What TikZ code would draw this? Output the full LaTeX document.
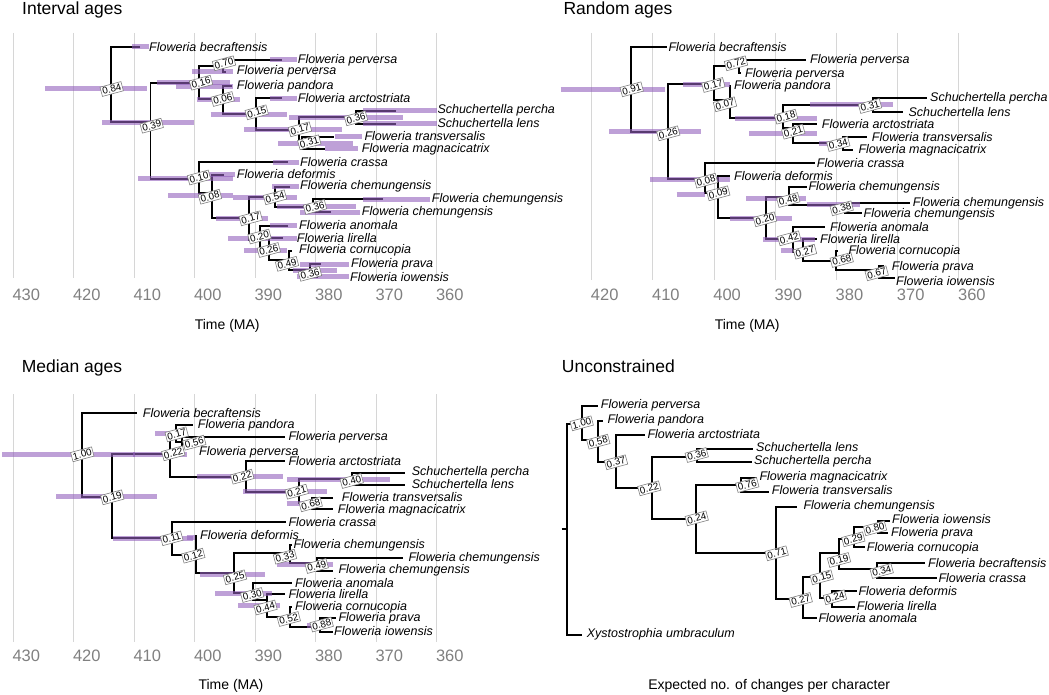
\documentclass[tikz,border=0pt]{standalone}
\usepackage{fontspec}
\setmainfont{Liberation Sans}
\definecolor{hpdpurple}{RGB}{147,97,188}
\definecolor{gridgray}{RGB}{214,214,214}
\definecolor{tickgray}{RGB}{128,128,128}
\tikzset{
  branch/.style={line width=1.7pt},
  hpd/.style={line width=5pt, draw=hpdpurple, draw opacity=0.6},
  gridline/.style={draw=gridgray, line width=0.9pt},
  tiplab/.style={anchor=west, inner sep=0pt, font=\fontsize{12.5}{12.5}\selectfont\itshape},
  pplab/.style={draw=tickgray, fill=white, inner sep=1.3pt, rotate=15, line width=0.6pt, font=\fontsize{9.8}{9.8}\selectfont},
  ticklab/.style={text=tickgray, inner sep=0pt, font=\fontsize{16.5}{16.5}\selectfont},
  paneltitle/.style={anchor=west, inner sep=0pt, font=\fontsize{17.5}{17.5}\selectfont},
  axtitle/.style={inner sep=0pt, font=\fontsize{14}{14}\selectfont},
}
\begin{document}
\begin{tikzpicture}[x=1pt,y=-1pt]
\useasboundingbox (0,0) rectangle (1049,695);

% ---------------- Interval ages
\node[paneltitle] (i-title) at (22,10) {Interval ages};
\foreach \t in {430,420,...,360} {
  \draw[gridline] ({13.3+(430-\t)*6.05},33) -- ({13.3+(430-\t)*6.05},278);
  \node[ticklab] (i-tick\t) at ({26.3+(430-\t)*6.05},295) {\t};
}
\node[axtitle] (i-axis) at (227.2,325.8) {Time (MA)};

\coordinate (i-root) at (111,88);
\coordinate (i-a) at (150.5,122.3);
\coordinate (i-b) at (199.3,83.3);
\coordinate (i-c) at (222.7,65.7);
\coordinate (i-d) at (223.3,99.3);
\coordinate (i-e) at (255.7,114.3);
\coordinate (i-f) at (299.3,130);
\coordinate (i-g) at (356,117.3);
\coordinate (i-h) at (302,142.3);
\coordinate (i-i) at (199.3,179.3);
\coordinate (i-j) at (212.3,193.3);
\coordinate (i-k) at (249.3,218.3);
\coordinate (i-l) at (275,197.3);
\coordinate (i-n) at (313.3,206.7);
\coordinate (i-m) at (260,240);
\coordinate (i-o) at (269.3,249.3);
\coordinate (i-p) at (289,260);
\coordinate (i-q) at (310,270);
\coordinate (i-becr) at (140,46.7);
\coordinate (i-perv1) at (281.7,60);
\coordinate (i-perv2) at (226,71.7);
\coordinate (i-pand) at (232,86);
\coordinate (i-arct) at (281.7,98.3);
\coordinate (i-perc) at (396,110.7);
\coordinate (i-lens) at (396,124);
\coordinate (i-tran) at (334.3,136.7);
\coordinate (i-magn) at (325,149);
\coordinate (i-cras) at (288.3,162.3);
\coordinate (i-defo) at (224,175);
\coordinate (i-chm1) at (290,186.7);
\coordinate (i-chm2) at (383.3,199.3);
\coordinate (i-chm3) at (331,212.3);
\coordinate (i-anom) at (288.3,225.7);
\coordinate (i-lire) at (283.3,238.3);
\coordinate (i-corn) at (292,250.7);
\coordinate (i-prav) at (321,264);
\coordinate (i-iowa) at (318,276.7);

\draw[branch] (i-root) |- (i-becr) (i-root) |- (i-a)
  (i-a) |- (i-b) (i-a) |- (i-i)
  (i-b) |- (i-c) (i-b) |- (i-d)
  (i-c) |- (i-perv1) (i-c) |- (i-perv2)
  (i-d) |- (i-pand) (i-d) |- (i-e)
  (i-e) |- (i-arct) (i-e) |- (i-f)
  (i-f) |- (i-g) (i-f) |- (i-h)
  (i-g) |- (i-perc) (i-g) |- (i-lens)
  (i-h) |- (i-tran) (i-h) |- (i-magn)
  (i-i) |- (i-cras) (i-i) |- (i-j)
  (i-j) |- (i-defo) (i-j) |- (i-k)
  (i-k) |- (i-l) (i-k) |- (i-m)
  (i-l) |- (i-chm1) (i-l) |- (i-n)
  (i-n) |- (i-chm2) (i-n) |- (i-chm3)
  (i-m) |- (i-anom) (i-m) |- (i-o)
  (i-o) |- (i-lire) (i-o) |- (i-p)
  (i-p) |- (i-corn) (i-p) |- (i-q)
  (i-q) |- (i-prav) (i-q) |- (i-iowa);

\draw[hpd] (45,89) -- (146.7,89);
\draw[hpd] (102,122.3) -- (194,122.3);
\draw[hpd] (131.7,46.7) -- (149,46.7);
\draw[hpd] (156.7,82.7) -- (230,82.7);
\draw[hpd] (175.7,86.5) -- (233,86.5);
\draw[hpd] (191.7,71.7) -- (233.3,71.7);
\draw[hpd] (270,60) -- (296.7,60);
\draw[hpd] (196.7,99.3) -- (240,99.3);
\draw[hpd] (270,98.3) -- (296.7,98.3);
\draw[hpd] (210.7,114.3) -- (287.3,114.3);
\draw[hpd] (244,130) -- (341.7,130);
\draw[hpd] (289.3,117.3) -- (403.3,117.3);
\draw[hpd] (363.3,110.7) -- (436.7,110.7);
\draw[hpd] (363.3,124) -- (436.7,124);
\draw[hpd] (278,143.3) -- (353,143.3);
\draw[hpd] (335,136.7) -- (361.7,136.7);
\draw[hpd] (325,149) -- (358,149);
\draw[hpd] (273,162.3) -- (299,162.3);
\draw[hpd] (138.3,178.3) -- (233.3,178.3);
\draw[hpd] (200,175) -- (235,175);
\draw[hpd] (168.3,196) -- (233,196);
\draw[hpd] (233,197.5) -- (296.7,197.5);
\draw[hpd] (216,218.3) -- (268.3,218.3);
\draw[hpd] (272,186.7) -- (299,186.7);
\draw[hpd] (276.7,206.7) -- (356,206.7);
\draw[hpd] (363.3,199.3) -- (430,199.3);
\draw[hpd] (300,212.3) -- (360,212.3);
\draw[hpd] (228,238) -- (296.7,238);
\draw[hpd] (270,225.7) -- (297,225.7);
\draw[hpd] (244,250) -- (286.7,250);
\draw[hpd] (300,264) -- (349.3,264);
\draw[hpd] (293,270) -- (336.7,270);
\draw[hpd] (296.7,276.7) -- (349.3,276.7);

\node[pplab] (i-root-pp) at (111.7,89) {0.84};
\node[pplab] (i-a-pp) at (151.7,125.7) {0.39};
\node[pplab] (i-b-pp) at (201,82.7) {0.16};
\node[pplab] (i-c-pp) at (224,63.3) {0.70};
\node[pplab] (i-d-pp) at (222.7,99) {0.06};
\node[pplab] (i-e-pp) at (256.7,112.3) {0.15};
\node[pplab] (i-f-pp) at (300,129.3) {0.17};
\node[pplab] (i-g-pp) at (356,118.3) {0.36};
\node[pplab] (i-h-pp) at (309.3,142.3) {0.31};
\node[pplab] (i-i-pp) at (199,177.5) {0.10};
\node[pplab] (i-j-pp) at (210,196.7) {0.08};
\node[pplab] (i-k-pp) at (250.7,218.3) {0.17};
\node[pplab] (i-l-pp) at (275,197.3) {0.54};
\node[pplab] (i-n-pp) at (315,207) {0.36};
\node[pplab] (i-m-pp) at (259.5,236.5) {0.20};
\node[pplab] (i-o-pp) at (268.8,250) {0.26};
\node[pplab] (i-p-pp) at (287,263.8) {0.49};
\node[pplab] (i-q-pp) at (310,273.8) {0.36};

\node[tiplab] (i-becr-lab) at (149,46.7) {Floweria becraftensis};
\node[tiplab] (i-perv1-lab) at (297.7,60) {Floweria perversa};
\node[tiplab] (i-perv2-lab) at (236.7,71.7) {Floweria perversa};
\node[tiplab] (i-pand-lab) at (236.7,86) {Floweria pandora};
\node[tiplab] (i-arct-lab) at (297.7,98.3) {Floweria arctostriata};
\node[tiplab] (i-perc-lab) at (437.3,110.3) {Schuchertella percha};
\node[tiplab] (i-lens-lab) at (437.3,123.5) {Schuchertella lens};
\node[tiplab] (i-tran-lab) at (364.3,136.3) {Floweria transversalis};
\node[tiplab] (i-magn-lab) at (361.7,149) {Floweria magnacicatrix};
\node[tiplab] (i-cras-lab) at (300,162.3) {Floweria crassa};
\node[tiplab] (i-defo-lab) at (236.7,174.3) {Floweria deformis};
\node[tiplab] (i-chm1-lab) at (300,186.7) {Floweria chemungensis};
\node[tiplab] (i-chm2-lab) at (431.7,199.3) {Floweria chemungensis};
\node[tiplab] (i-chm3-lab) at (361.7,212.3) {Floweria chemungensis};
\node[tiplab] (i-anom-lab) at (299,225.3) {Floweria anomala};
\node[tiplab] (i-lire-lab) at (296.7,238.3) {Floweria lirella};
\node[tiplab] (i-corn-lab) at (299,250.7) {Floweria cornucopia};
\node[tiplab] (i-prav-lab) at (351,264) {Floweria prava};
\node[tiplab] (i-iowa-lab) at (350,276.7) {Floweria iowensis};

% ---------------- Random ages
\node[paneltitle] (r-title) at (563.3,10) {Random ages};
\foreach \t in {420,410,...,360} {
  \draw[gridline] ({591.7+(420-\t)*6.12},33) -- ({591.7+(420-\t)*6.12},280);
  \node[ticklab] (r-tick\t) at ({604.7+(420-\t)*6.12},295) {\t};
}
\node[axtitle] (r-axis) at (747.2,325.8) {Time (MA)};

\coordinate (r-root) at (631,89.3);
\coordinate (r-a) at (667.7,131.7);
\coordinate (r-b) at (714.3,84.3);
\coordinate (r-c) at (739.3,65.7);
\coordinate (r-d) at (730,100);
\coordinate (r-e) at (783.3,118.3);
\coordinate (r-g) at (873.3,105);
\coordinate (r-f) at (793.3,128.3);
\coordinate (r-h) at (843.3,143.3);
\coordinate (r-i) at (705,179.3);
\coordinate (r-j) at (718.3,193.3);
\coordinate (r-k) at (766,218.3);
\coordinate (r-l) at (789.3,197.3);
\coordinate (r-n) at (845,205);
\coordinate (r-m) at (792.7,239);
\coordinate (r-o) at (803.3,251.7);
\coordinate (r-p) at (836,260.7);
\coordinate (r-q) at (879,270);
\coordinate (r-becr) at (666.7,46.7);
\coordinate (r-perv1) at (806,60);
\coordinate (r-perv2) at (741,73);
\coordinate (r-pand) at (731,86);
\coordinate (r-perc) at (926.7,98.3);
\coordinate (r-lens) at (902.7,111.7);
\coordinate (r-arct) at (817.3,124.3);
\coordinate (r-tran) at (866.7,136.7);
\coordinate (r-magn) at (853.3,150);
\coordinate (r-cras) at (815,163.3);
\coordinate (r-defo) at (730,175.7);
\coordinate (r-chm1) at (806.7,187.3);
\coordinate (r-chm2) at (910,202.7);
\coordinate (r-chm3) at (862,213.3);
\coordinate (r-anom) at (825,227.3);
\coordinate (r-lire) at (816.7,239.3);
\coordinate (r-corn) at (838,251);
\coordinate (r-prav) at (884,266);
\coordinate (r-iowa) at (895,278.3);

\draw[branch] (r-root) |- (r-becr) (r-root) |- (r-a)
  (r-a) |- (r-b) (r-a) |- (r-i)
  (r-b) |- (r-c) (r-b) |- (r-d)
  (r-c) |- (r-perv1) (r-c) |- (r-perv2)
  (r-d) |- (r-pand) (r-d) |- (r-e)
  (r-e) |- (r-g) (r-e) |- (r-f)
  (r-g) |- (r-perc) (r-g) |- (r-lens)
  (r-f) |- (r-arct) (r-f) |- (r-h)
  (r-h) |- (r-tran) (r-h) |- (r-magn)
  (r-i) |- (r-cras) (r-i) |- (r-j)
  (r-j) |- (r-defo) (r-j) |- (r-k)
  (r-k) |- (r-l) (r-k) |- (r-m)
  (r-l) |- (r-chm1) (r-l) |- (r-n)
  (r-n) |- (r-chm2) (r-n) |- (r-chm3)
  (r-m) |- (r-anom) (r-m) |- (r-o)
  (r-o) |- (r-lire) (r-o) |- (r-p)
  (r-p) |- (r-corn) (r-p) |- (r-q)
  (r-q) |- (r-prav) (r-q) |- (r-iowa);

\draw[hpd] (560.7,89.3) -- (665,89.3);
\draw[hpd] (609,131.7) -- (701,131.7);
\draw[hpd] (683.3,84.3) -- (730,84.3);
\draw[hpd] (735,118.3) -- (816.7,118.3);
\draw[hpd] (810,105) -- (893.3,105);
\draw[hpd] (749.3,133.3) -- (817.3,133.3);
\draw[hpd] (819.3,143.3) -- (831.7,143.3);
\draw[hpd] (650,179.3) -- (730,179.3);
\draw[hpd] (676.7,195) -- (705,195);
\draw[hpd] (730,218.3) -- (791.7,218.3);
\draw[hpd] (746,198.3) -- (806,198.3);
\draw[hpd] (806.7,205) -- (860,205);
\draw[hpd] (763.3,239) -- (815,239);
\draw[hpd] (780.7,250.7) -- (793.3,250.7);

\node[pplab] (r-root-pp) at (631.7,89.3) {0.91};
\node[pplab] (r-a-pp) at (668.3,133.3) {0.26};
\node[pplab] (r-b-pp) at (713.3,85) {0.17};
\node[pplab] (r-c-pp) at (736,63.3) {0.72};
\node[pplab] (r-d-pp) at (725,104.3) {0.07};
\node[pplab] (r-e-pp) at (786,116.7) {0.18};
\node[pplab] (r-g-pp) at (870,106) {0.31};
\node[pplab] (r-f-pp) at (793.3,131.7) {0.21};
\node[pplab] (r-h-pp) at (838.3,144) {0.34};
\node[pplab] (r-i-pp) at (706,180.7) {0.08};
\node[pplab] (r-j-pp) at (718.3,193.3) {0.09};
\node[pplab] (r-k-pp) at (765,219.3) {0.20};
\node[pplab] (r-l-pp) at (788.3,200) {0.48};
\node[pplab] (r-n-pp) at (841.7,208.3) {0.38};
\node[pplab] (r-m-pp) at (789.3,238.3) {0.42};
\node[pplab] (r-o-pp) at (805,251.7) {0.27};
\node[pplab] (r-p-pp) at (841.7,260) {0.68};
\node[pplab] (r-q-pp) at (876.7,273.3) {0.67};

\node[tiplab] (r-becr-lab) at (668.3,46.7) {Floweria becraftensis};
\node[tiplab] (r-perv1-lab) at (810,60) {Floweria perversa};
\node[tiplab] (r-perv2-lab) at (745,74.5) {Floweria perversa};
\node[tiplab] (r-pand-lab) at (734,86) {Floweria pandora};
\node[tiplab] (r-perc-lab) at (930,98.3) {Schuchertella percha};
\node[tiplab] (r-lens-lab) at (908.3,111.7) {Schuchertella lens};
\node[tiplab] (r-arct-lab) at (821.7,124.3) {Floweria arctostriata};
\node[tiplab] (r-tran-lab) at (871.7,136.7) {Floweria transversalis};
\node[tiplab] (r-magn-lab) at (858.3,150) {Floweria magnacicatrix};
\node[tiplab] (r-cras-lab) at (816.7,163.3) {Floweria crassa};
\node[tiplab] (r-defo-lab) at (734,175.7) {Floweria deformis};
\node[tiplab] (r-chm1-lab) at (808.3,187.3) {Floweria chemungensis};
\node[tiplab] (r-chm2-lab) at (912.7,203) {Floweria chemungensis};
\node[tiplab] (r-chm3-lab) at (863.5,214) {Floweria chemungensis};
\node[tiplab] (r-anom-lab) at (830,227.3) {Floweria anomala};
\node[tiplab] (r-lire-lab) at (820,239.3) {Floweria lirella};
\node[tiplab] (r-corn-lab) at (848.3,251.7) {Floweria cornucopia};
\node[tiplab] (r-prav-lab) at (891.7,267.3) {Floweria prava};
\node[tiplab] (r-iowa-lab) at (896,280.7) {Floweria iowensis};

% ---------------- Median ages
\node[paneltitle] (m-title) at (21.7,367.5) {Median ages};
\foreach \t in {430,420,...,360} {
  \draw[gridline] ({13.3+(430-\t)*6.05},394.3) -- ({13.3+(430-\t)*6.05},641.7);
  \node[ticklab] (m-tick\t) at ({26.3+(430-\t)*6.05},655.8) {\t};
}
\node[axtitle] (m-axis) at (231,685.8) {Time (MA)};

\coordinate (m-root) at (82.3,454.3);
\coordinate (m-a) at (112.3,496.7);
\coordinate (m-b) at (170,454.3);
\coordinate (m-c) at (176,432);
\coordinate (m-d) at (181.7,441.7);
\coordinate (m-e) at (245.7,476.7);
\coordinate (m-f) at (299,491.7);
\coordinate (m-g) at (351.7,479);
\coordinate (m-h) at (311.7,503.3);
\coordinate (m-i) at (171.7,538.3);
\coordinate (m-j) at (195.7,555);
\coordinate (m-k) at (234.3,573.3);
\coordinate (m-l) at (290,553.3);
\coordinate (m-n) at (317.3,563.3);
\coordinate (m-m) at (252.7,592.7);
\coordinate (m-o) at (267.3,600);
\coordinate (m-p) at (290,616.7);
\coordinate (m-q) at (320,627.3);
\coordinate (m-becr) at (136.7,412.7);
\coordinate (m-pand) at (193.3,425);
\coordinate (m-perv1) at (285,436.7);
\coordinate (m-perv2) at (184,450);
\coordinate (m-arct) at (285,461);
\coordinate (m-perc) at (405,472.7);
\coordinate (m-lens) at (405,485);
\coordinate (m-tran) at (333.3,497.7);
\coordinate (m-magn) at (333.3,509);
\coordinate (m-cras) at (286,521.7);
\coordinate (m-defo) at (195.7,535);
\coordinate (m-chm1) at (292,545);
\coordinate (m-chm2) at (403.3,558.3);
\coordinate (m-chm3) at (333.3,570.7);
\coordinate (m-anom) at (291.7,583.3);
\coordinate (m-lire) at (285,594);
\coordinate (m-corn) at (292,607.3);
\coordinate (m-prav) at (336,618.3);
\coordinate (m-iowa) at (333,631.7);

\draw[branch] (m-root) |- (m-becr) (m-root) |- (m-a)
  (m-a) |- (m-b) (m-a) |- (m-i)
  (m-b) |- (m-c) (m-b) |- (m-e)
  (m-c) |- (m-pand) (m-c) |- (m-d)
  (m-d) |- (m-perv1) (m-d) |- (m-perv2)
  (m-e) |- (m-arct) (m-e) |- (m-f)
  (m-f) |- (m-g) (m-f) |- (m-h)
  (m-g) |- (m-perc) (m-g) |- (m-lens)
  (m-h) |- (m-tran) (m-h) |- (m-magn)
  (m-i) |- (m-cras) (m-i) |- (m-j)
  (m-j) |- (m-defo) (m-j) |- (m-k)
  (m-k) |- (m-l) (m-k) |- (m-m)
  (m-l) |- (m-chm1) (m-l) |- (m-n)
  (m-n) |- (m-chm2) (m-n) |- (m-chm3)
  (m-m) |- (m-anom) (m-m) |- (m-o)
  (m-o) |- (m-lire) (m-o) |- (m-p)
  (m-p) |- (m-corn) (m-p) |- (m-q)
  (m-q) |- (m-prav) (m-q) |- (m-iowa);

\draw[hpd] (2,454.3) -- (135,454.3);
\draw[hpd] (133,454.3) -- (187,454.3);
\draw[hpd] (155,433.3) -- (175,433.3);
\draw[hpd] (196.7,476.7) -- (283.3,476.7);
\draw[hpd] (287.3,479) -- (390,479);
\draw[hpd] (243.3,491.7) -- (326.7,491.7);
\draw[hpd] (56,496.7) -- (156.7,496.7);
\draw[hpd] (286.7,503.3) -- (318.3,503.3);
\draw[hpd] (113.3,538.3) -- (193.3,538.3);
\draw[hpd] (186.7,537) -- (195,537);
\draw[hpd] (200,574.5) -- (265,574.5);
\draw[hpd] (277,564.5) -- (333.3,564.5);
\draw[hpd] (215,593.5) -- (271.7,593.5);
\draw[hpd] (238.3,605) -- (280,605);
\draw[hpd] (306.7,625.5) -- (330,625.5);

\node[pplab] (m-root-pp) at (82.3,454.3) {1.00};
\node[pplab] (m-a-pp) at (112.3,497.3) {0.19};
\node[pplab] (m-b-pp) at (173.3,453.3) {0.22};
\node[pplab] (m-c-pp) at (176.7,434.3) {0.17};
\node[pplab] (m-d-pp) at (194.3,442.7) {0.56};
\node[pplab] (m-e-pp) at (242.3,476.7) {0.22};
\node[pplab] (m-f-pp) at (296.7,491.7) {0.21};
\node[pplab] (m-g-pp) at (351.7,481) {0.40};
\node[pplab] (m-h-pp) at (310.7,504.3) {0.68};
\node[pplab] (m-i-pp) at (171.7,538.3) {0.11};
\node[pplab] (m-j-pp) at (193.3,555.7) {0.12};
\node[pplab] (m-k-pp) at (235,577.3) {0.25};
\node[pplab] (m-l-pp) at (285,556.7) {0.33};
\node[pplab] (m-n-pp) at (316.7,566) {0.49};
\node[pplab] (m-m-pp) at (252.2,595) {0.30};
\node[pplab] (m-o-pp) at (265.5,607.5) {0.44};
\node[pplab] (m-p-pp) at (288.8,619) {0.52};
\node[pplab] (m-q-pp) at (321.7,624.5) {0.88};

\node[tiplab] (m-becr-lab) at (142.7,412.7) {Floweria becraftensis};
\node[tiplab] (m-pand-lab) at (197.7,425.5) {Floweria pandora};
\node[tiplab] (m-perv1-lab) at (288.3,437.3) {Floweria perversa};
\node[tiplab] (m-perv2-lab) at (199,452.5) {Floweria perversa};
\node[tiplab] (m-arct-lab) at (288.3,461) {Floweria arctostriata};
\node[tiplab] (m-perc-lab) at (411.7,472.7) {Schuchertella percha};
\node[tiplab] (m-lens-lab) at (411.7,484.5) {Schuchertella lens};
\node[tiplab] (m-tran-lab) at (341.7,497.3) {Floweria transversalis};
\node[tiplab] (m-magn-lab) at (337.7,510.5) {Floweria magnacicatrix};
\node[tiplab] (m-cras-lab) at (288.3,522.3) {Floweria crassa};
\node[tiplab] (m-defo-lab) at (200,535) {Floweria deformis};
\node[tiplab] (m-chm1-lab) at (293.3,545.5) {Floweria chemungensis};
\node[tiplab] (m-chm2-lab) at (408.3,558.3) {Floweria chemungensis};
\node[tiplab] (m-chm3-lab) at (338.3,570.7) {Floweria chemungensis};
\node[tiplab] (m-anom-lab) at (295,583.3) {Floweria anomala};
\node[tiplab] (m-lire-lab) at (288.3,594.5) {Floweria lirella};
\node[tiplab] (m-corn-lab) at (295,607) {Floweria cornucopia};
\node[tiplab] (m-prav-lab) at (338.3,618.3) {Floweria prava};
\node[tiplab] (m-iowa-lab) at (334,631.3) {Floweria iowensis};

% ---------------- Unconstrained
\node[paneltitle] (u-title) at (561.7,366.7) {Unconstrained};
\node[axtitle] (u-axis) at (769.2,685.8) {Expected no. of changes per character};

\coordinate (u-stem) at (561.7,529);
\coordinate (u-root) at (566.7,529);
\coordinate (u-a) at (581.7,424.3);
\coordinate (u-b) at (598.3,440);
\coordinate (u-c) at (616,462.3);
\coordinate (u-d) at (651.7,487.7);
\coordinate (u-e) at (696.7,456.7);
\coordinate (u-f) at (695.7,519);
\coordinate (u-g) at (741,485);
\coordinate (u-h) at (776,552.7);
\coordinate (u-i) at (803.3,599);
\coordinate (u-j) at (820,577.3);
\coordinate (u-k) at (839,553.3);
\coordinate (u-m) at (854,539);
\coordinate (u-o) at (878.3,526.7);
\coordinate (u-n) at (877.3,569.3);
\coordinate (u-l) at (831.7,598.3);
\coordinate (u-xyst) at (581.7,635);
\coordinate (u-perv) at (598.3,405.7);
\coordinate (u-pand) at (603,421);
\coordinate (u-arct) at (645,435);
\coordinate (u-lens) at (753.3,449);
\coordinate (u-perc) at (751.7,462.3);
\coordinate (u-magn) at (756.7,477.7);
\coordinate (u-tran) at (769.3,491.7);
\coordinate (u-chem) at (796.7,506.7);
\coordinate (u-anom) at (816.7,618.3);
\coordinate (u-corn) at (865,546.7);
\coordinate (u-iowa) at (890,520.7);
\coordinate (u-prav) at (888.3,533.3);
\coordinate (u-becr) at (925,563.3);
\coordinate (u-cras) at (937,578.3);
\coordinate (u-defo) at (856.7,590.7);
\coordinate (u-lire) at (855,606.7);

\draw[branch] (u-stem) -- (u-root)
  (u-root) |- (u-a) (u-root) |- (u-xyst)
  (u-a) |- (u-perv) (u-a) |- (u-b)
  (u-b) |- (u-pand) (u-b) |- (u-c)
  (u-c) |- (u-arct) (u-c) |- (u-d)
  (u-d) |- (u-e) (u-d) |- (u-f)
  (u-e) |- (u-lens) (u-e) |- (u-perc)
  (u-f) |- (u-g) (u-f) |- (u-h)
  (u-g) |- (u-magn) (u-g) |- (u-tran)
  (u-h) |- (u-chem) (u-h) |- (u-i)
  (u-i) |- (u-j) (u-i) |- (u-anom)
  (u-j) |- (u-k) (u-j) |- (u-l)
  (u-k) |- (u-m) (u-k) |- (u-n)
  (u-m) |- (u-o) (u-m) |- (u-corn)
  (u-o) |- (u-iowa) (u-o) |- (u-prav)
  (u-n) |- (u-becr) (u-n) |- (u-cras)
  (u-l) |- (u-defo) (u-l) |- (u-lire);

\node[pplab] (u-a-pp) at (581.7,423.3) {1.00};
\node[pplab] (u-b-pp) at (598.3,441.7) {0.58};
\node[pplab] (u-c-pp) at (616,462.3) {0.37};
\node[pplab] (u-d-pp) at (649.3,488.3) {0.22};
\node[pplab] (u-e-pp) at (696.7,455) {0.36};
\node[pplab] (u-f-pp) at (696.7,518.3) {0.24};
\node[pplab] (u-g-pp) at (747.3,485) {0.76};
\node[pplab] (u-h-pp) at (776.7,553.3) {0.71};
\node[pplab] (u-i-pp) at (800.7,600) {0.27};
\node[pplab] (u-j-pp) at (821.7,577.3) {0.15};
\node[pplab] (u-l-pp) at (835,597.3) {0.24};
\node[pplab] (u-k-pp) at (839,560) {0.19};
\node[pplab] (u-m-pp) at (853.3,539.3) {0.29};
\node[pplab] (u-o-pp) at (875,528.3) {0.80};
\node[pplab] (u-n-pp) at (881.7,571) {0.34};

\node[tiplab] (u-xyst-lab) at (586.7,634) {Xystostrophia umbraculum};
\node[tiplab] (u-perv-lab) at (600.7,405.3) {Floweria perversa};
\node[tiplab] (u-pand-lab) at (607.3,420.5) {Floweria pandora};
\node[tiplab] (u-arct-lab) at (647.3,434.5) {Floweria arctostriata};
\node[tiplab] (u-lens-lab) at (756,447.5) {Schuchertella lens};
\node[tiplab] (u-perc-lab) at (754,461.5) {Schuchertella percha};
\node[tiplab] (u-magn-lab) at (759.3,477) {Floweria magnacicatrix};
\node[tiplab] (u-tran-lab) at (771.7,490.5) {Floweria transversalis};
\node[tiplab] (u-chem-lab) at (803.3,506) {Floweria chemungensis};
\node[tiplab] (u-iowa-lab) at (892,519.5) {Floweria iowensis};
\node[tiplab] (u-prav-lab) at (891,533.3) {Floweria prava};
\node[tiplab] (u-corn-lab) at (866.7,548) {Floweria cornucopia};
\node[tiplab] (u-becr-lab) at (928,563.3) {Floweria becraftensis};
\node[tiplab] (u-cras-lab) at (938.3,577.7) {Floweria crassa};
\node[tiplab] (u-defo-lab) at (858.3,590.7) {Floweria deformis};
\node[tiplab] (u-lire-lab) at (856.7,606.3) {Floweria lirella};
\node[tiplab] (u-anom-lab) at (818.3,618.3) {Floweria anomala};
\end{tikzpicture}
\end{document}
